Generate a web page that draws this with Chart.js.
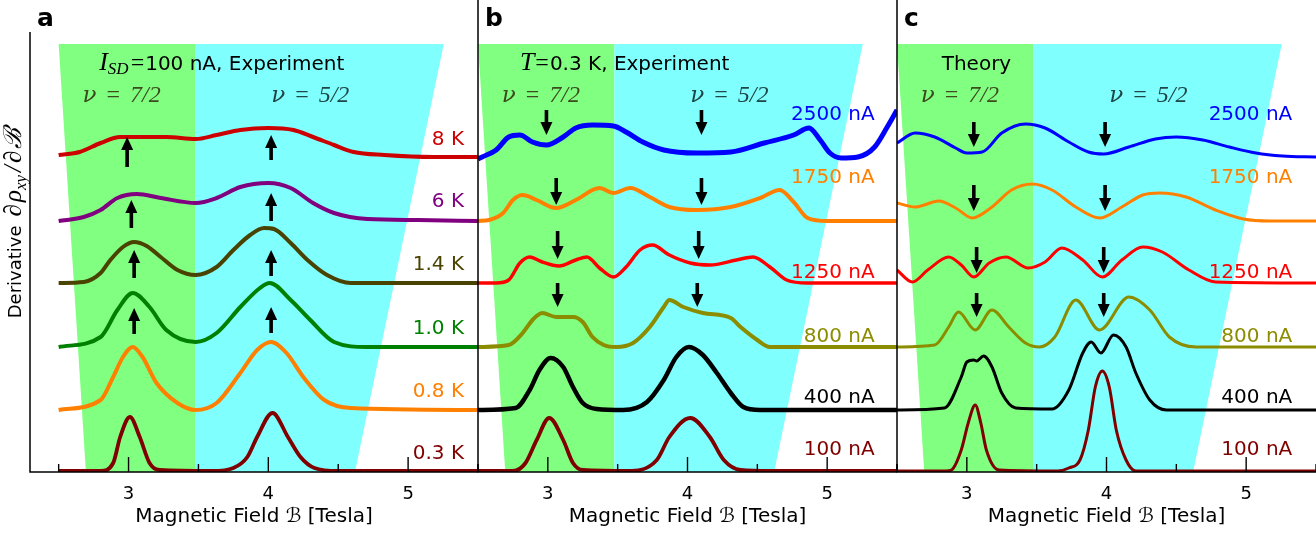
<!DOCTYPE html>
<html>
<head>
<meta charset="utf-8">
<script src="https://cdn.jsdelivr.net/npm/chart.js@4.4.1/dist/chart.umd.min.js"></script>
<style>
  html, body { margin: 0; padding: 0; background: #fff; }
  #wrap { position: relative; width: 1316px; height: 533px; overflow: hidden; }
  .panel { position: absolute; top: 0; height: 533px; }
</style>
</head>
<body>
<div id="wrap">
  <div class="panel" style="left:0;width:480px"><canvas id="chart-a"></canvas></div>
  <div class="panel" style="left:470px;width:430px"><canvas id="chart-b"></canvas></div>
  <div class="panel" style="left:889px;width:427px"><canvas id="chart-c"></canvas></div>
</div>
<script>
// ---- Data (x = field in Tesla, y = offset trace height in plot units) ----
const majorTicks = [3, 4, 5];
const minorTicks = [2.5, 3.5, 4.5, 5.5];

// shaded filling-factor zones (same in every panel)
const greenZone = [[2.5, 428], [3.477, 428], [3.477, 0], [2.695, 0]];
const cyanZone = [[3.477, 428], [5.255, 428], [4.62, 0], [3.477, 0]];

// panel a: I_SD = 100 nA, different temperatures
const tempLabels = ['8 K', '6 K', '1.4 K', '1.0 K', '0.8 K', '0.3 K'];
const trace8K = [[2.50,317],[2.65,320],[2.80,329],[2.94,335],[3.08,335],[3.27,335],[3.48,333],[3.63,337],[3.80,342],[4.00,344],[4.18,342],[4.32,335],[4.47,327],[4.61,320],[4.83,317],[5.18,315],[5.50,315]];
const trace6K = [[2.50,251],[2.68,255],[2.80,262],[2.92,274],[3.06,278],[3.23,274],[3.48,269],[3.63,274],[3.80,285],[4.00,289],[4.16,284],[4.32,269],[4.47,259],[4.71,253],[5.07,252],[5.50,251]];
const trace1p4K = [[2.50,189],[2.68,190],[2.80,199],[2.87,212],[2.96,225],[3.04,230],[3.13,226],[3.23,215],[3.35,202],[3.48,197],[3.63,205],[3.75,222],[3.87,237],[3.97,244],[4.04,243],[4.16,229],[4.28,212],[4.42,197],[4.59,189],[5.50,189]];
const trace1p0K = [[2.50,125],[2.80,135],[2.92,162],[3.03,179],[3.15,165],[3.27,142],[3.48,130],[3.63,139],[3.80,165],[3.94,184],[4.01,189],[4.16,172],[4.30,152],[4.47,130],[4.71,125],[5.50,125]];
const trace0p8K = [[2.50,62],[2.80,72],[2.89,95],[2.96,115],[3.03,125],[3.10,115],[3.20,89],[3.35,69],[3.48,62],[3.63,69],[3.80,99],[3.92,122],[4.02,130],[4.13,119],[4.25,95],[4.40,72],[4.59,64],[5.50,62]];
const trace0p3K = [[2.50,1],[2.80,1],[2.89,9],[2.94,35],[3.01,55],[3.08,35],[3.15,9],[3.22,2],[3.60,1],[3.75,4],[3.85,15],[3.92,35],[4.03,59],[4.14,35],[4.23,15],[4.33,4],[4.50,1],[5.50,1]];

// panel b: T = 0.3 K, different currents (experiment)
const currentLabels = ['2500 nA', '1750 nA', '1250 nA', '800 nA', '400 nA', '100 nA'];
const exp2500 = [[2.50,313],[2.53,315],[2.63,322],[2.72,335],[2.80,337],[2.89,330],[2.99,327],[3.11,335],[3.20,344],[3.32,347],[3.47,346],[3.56,340],[3.68,330],[3.83,322],[4.07,319],[4.31,320],[4.55,329],[4.76,337],[4.87,344],[4.95,332],[5.02,319],[5.10,314],[5.22,315],[5.34,325],[5.43,345],[5.50,362]];
const exp1750 = [[2.50,251],[2.58,252],[2.68,259],[2.75,272],[2.82,277],[2.92,272],[3.06,264],[3.20,272],[3.37,284],[3.47,279],[3.59,284],[3.73,275],[3.87,265],[4.07,262],[4.31,265],[4.52,274],[4.66,282],[4.76,270],[4.86,254],[5.00,251],[5.50,251]];
const exp1250 = [[2.50,189],[2.63,189],[2.72,192],[2.80,209],[2.87,215],[2.96,210],[3.08,206],[3.20,212],[3.28,215],[3.37,204],[3.47,195],[3.56,205],[3.66,222],[3.75,227],[3.87,217],[4.02,209],[4.16,207],[4.35,212],[4.47,215],[4.59,205],[4.71,192],[4.86,189],[5.50,189]];
const exp800 = [[2.50,125],[2.72,127],[2.82,139],[2.89,152],[2.96,159],[3.06,155],[3.18,155],[3.25,150],[3.32,135],[3.40,127],[3.49,125],[3.61,129],[3.73,145],[3.83,165],[3.87,172],[3.97,165],[4.11,159],[4.31,154],[4.38,145],[4.50,132],[4.59,125],[5.50,125]];
const exp400 = [[2.50,62],[2.77,64],[2.87,82],[2.94,102],[3.02,114],[3.11,105],[3.18,85],[3.25,69],[3.35,63],[3.54,62],[3.71,70],[3.83,92],[3.92,115],[4.01,125],[4.11,117],[4.21,99],[4.31,79],[4.40,65],[4.52,62],[5.50,62]];
const exp100 = [[2.50,1],[2.75,1],[2.84,9],[2.92,32],[3.01,54],[3.11,32],[3.18,9],[3.25,2],[3.60,1],[3.78,12],[3.87,35],[4.02,54],[4.16,35],[4.26,12],[4.38,2],[4.60,1],[5.50,1]];

// panel c: theory, same currents
const theory2500 = [[2.50,329],[2.63,339],[2.77,335],[2.92,324],[3.00,319],[3.11,320],[3.25,339],[3.42,348],[3.56,344],[3.73,330],[3.87,320],[3.98,318],[4.16,325],[4.35,333],[4.50,335],[4.69,332],[4.88,325],[5.07,319],[5.26,316],[5.50,315]];
const theory1750 = [[2.50,269],[2.63,265],[2.80,271],[2.92,264],[3.04,254],[3.18,265],[3.32,282],[3.47,288],[3.61,282],[3.78,265],[3.95,254],[4.11,265],[4.26,277],[4.38,279],[4.57,275],[4.78,262],[4.98,253],[5.17,251],[5.50,251]];
const theory1250 = [[2.50,202],[2.61,190],[2.72,202],[2.87,215],[2.96,207],[3.05,195],[3.16,209],[3.28,215],[3.44,204],[3.56,210],[3.68,224],[3.83,212],[3.97,195],[4.11,212],[4.26,225],[4.40,220],[4.59,202],[4.78,190],[5.50,189]];
const theory800 = [[2.50,125],[2.77,127],[2.87,145],[2.94,160],[3.06,142],[3.18,162],[3.30,145],[3.42,129],[3.52,125],[3.63,135],[3.78,172],[3.95,142],[4.16,175],[4.31,162],[4.45,135],[4.64,125],[5.50,125]];
const theory400 = [[2.50,62],[2.84,64],[2.96,95],[3.00,110],[3.05,112],[3.07,111],[3.12,116],[3.18,105],[3.25,79],[3.35,64],[3.61,63],[3.73,82],[3.83,119],[3.89,130],[3.96,119],[4.05,137],[4.14,125],[4.21,99],[4.31,72],[4.43,62],[5.50,62]];
const theory100 = [[2.50,1],[2.85,1],[2.89,2],[2.96,22],[3.01,49],[3.06,67],[3.10,49],[3.14,22],[3.23,2],[3.65,1],[3.73,4],[3.81,12],[3.87,42],[3.92,85],[3.97,101],[4.02,85],[4.07,42],[4.14,12],[4.21,1],[5.50,1]];

// arrows: [field, tail, head]
const arrowsA = [[2.99,306,335],[4.02,313,337],[3.02,245,272],[4.02,252,279],[3.04,195,222],[4.02,197,222],[3.04,139,164],[4.02,140,165]];
const arrowsB = [[2.99,362,337],[4.10,362,337],[3.06,294,267],[4.10,294,267],[3.07,241,213],[4.08,241,213],[3.07,189,165],[4.07,189,165]];
const arrowsC = [[3.05,350,325],[3.99,350,325],[3.05,287,261],[3.99,287,261],[3.07,225,199],[3.98,225,199],[3.07,179,155],[3.98,179,155]];

// trace label heights
const tempLabelY = [332, 270, 207, 143, 80, 18];
const currentLabelY = [357, 294, 199, 135, 74, 22];

// ---- Styles ----
const tempColors = ['#cc0000', '#800080', '#4a4200', '#008000', '#ff8000', '#800000'];
const currentColors = ['#0000ff', '#ff8000', '#ff0000', '#8c8c00', '#000000', '#800000'];
const SANS = '"DejaVu Sans", sans-serif';
const SERIF = '"Liberation Serif", "DejaVu Serif", serif';
const MATHIT = '"DejaVu Serif", serif';

function drawRich(ctx, parts, x, y, align) {
    let total = 0;
    parts.forEach(function(p) {
        if (p.gap) { p.w = p.gap; } else { ctx.font = p.font; p.w = ctx.measureText(p.text).width; }
        total += p.w;
    });
    let cx = align === 'center' ? x - total / 2 : (align === 'right' ? x - total : x);
    parts.forEach(function(p) {
        if (!p.gap) {
            ctx.font = p.font;
            ctx.fillStyle = p.color || '#000';
            ctx.fillText(p.text, cx, y + (p.dy || 0));
        }
        cx += p.w;
    });
}

function drawArrow(ctx, px, pyTail, pyHead) {
    const dir = Math.sign(pyHead - pyTail);
    const headLen = 13, headHalf = 6, shaft = 3.6;
    const pyBase = pyHead - dir * headLen;
    ctx.fillRect(px - shaft / 2, Math.min(pyTail, pyBase), shaft, Math.abs(pyBase - pyTail) + 1);
    ctx.beginPath();
    ctx.moveTo(px - headHalf, pyBase);
    ctx.lineTo(px + headHalf, pyBase);
    ctx.lineTo(px, pyHead);
    ctx.closePath();
    ctx.fill();
}

function nuParts(num, color) {
    return [
        { text: 'ν', font: 'italic 23px ' + MATHIT, color: color },
        { gap: 10 },
        { text: '=', font: '24px ' + SERIF, color: color },
        { gap: 10 },
        { text: num + '/2', font: 'italic 24px ' + SERIF, color: color }
    ];
}

// Draws shading, axes, ticks, arrows and all annotations of one panel
const panelDecor = {
    id: 'panelDecor',
    beforeDatasetsDraw(chart, args, o) {
        const { ctx, chartArea: a, scales: { x, y } } = chart;
        ctx.save();
        ctx.beginPath();
        ctx.rect(a.left, a.top, a.right - a.left, a.bottom - a.top);
        ctx.clip();
        [[greenZone, '#80ff80'], [cyanZone, '#80ffff']].forEach(function(z) {
            ctx.beginPath();
            z[0].forEach(function(p, i) {
                const px = x.getPixelForValue(p[0]), py = y.getPixelForValue(p[1]);
                if (i) ctx.lineTo(px, py); else ctx.moveTo(px, py);
            });
            ctx.closePath();
            ctx.fillStyle = z[1];
            ctx.fill();
        });
        ctx.restore();
    },
    afterDatasetsDraw(chart, args, o) {
        const { ctx, chartArea: a, scales: { x, y } } = chart;
        ctx.save();

        // axes
        ctx.strokeStyle = '#000';
        ctx.lineWidth = 1.5;
        ctx.beginPath();
        ctx.moveTo(a.left, o.leftLineTop);
        ctx.lineTo(a.left, a.bottom);
        ctx.lineTo(a.right, a.bottom);
        ctx.stroke();

        // inward tick marks
        ctx.lineWidth = 1.4;
        majorTicks.concat(minorTicks).forEach(function(v) {
            const px = x.getPixelForValue(v);
            const len = majorTicks.indexOf(v) >= 0 ? 15 : 8;
            ctx.beginPath();
            ctx.moveTo(px, a.bottom);
            ctx.lineTo(px, a.bottom - len);
            ctx.stroke();
        });

        // arrows
        ctx.fillStyle = '#000';
        o.arrows.forEach(function(r) {
            drawArrow(ctx, x.getPixelForValue(r[0]), y.getPixelForValue(r[1]), y.getPixelForValue(r[2]));
        });

        // trace labels
        ctx.textBaseline = 'middle';
        ctx.textAlign = 'right';
        ctx.font = '20px ' + SANS;
        o.labels.forEach(function(t, i) {
            ctx.fillStyle = o.labelColors[i];
            ctx.fillText(t, x.getPixelForValue(o.labelX), y.getPixelForValue(o.labelY[i]));
        });

        // headings
        ctx.textBaseline = 'alphabetic';
        ctx.textAlign = 'left';
        drawRich(ctx, o.heading, x.getPixelForValue(o.headingX), y.getPixelForValue(402), 'left');
        drawRich(ctx, nuParts('7', '#3c4a1e'), x.getPixelForValue(2.95), y.getPixelForValue(370), 'center');
        drawRich(ctx, nuParts('5', '#1e4646'), x.getPixelForValue(4.30), y.getPixelForValue(370), 'center');

        // panel letter
        ctx.font = 'bold 25px ' + SANS;
        ctx.fillStyle = '#000';
        ctx.fillText(o.letter, a.left + 7, 26);

        // y axis title
        if (o.yTitle) {
            ctx.translate(14, 223);
            ctx.rotate(-Math.PI / 2);
            drawRich(ctx, [
                { text: 'Derivative', font: '18px ' + SANS },
                { gap: 9 },
                { text: '∂', font: 'italic 25px ' + SERIF },
                { gap: 2 },
                { text: 'ρ', font: 'italic 25px ' + SERIF },
                { text: 'xy', font: 'italic 17px ' + SERIF, dy: 5 },
                { gap: 3 },
                { text: '/', font: 'italic 25px ' + SERIF },
                { gap: 2 },
                { text: '∂', font: 'italic 25px ' + SERIF },
                { gap: 2 },
                { text: 'ℬ', font: 'italic 25px ' + SERIF }
            ], 0, 7, 'center');
        }
        ctx.restore();
    }
};

function buildPanel(id, cfg) {
    const datasets = cfg.series.map(function(pts, i) {
        return {
            data: pts.map(function(p) { return { x: p[0], y: p[1] }; }),
            borderColor: cfg.colors[i],
            borderWidth: cfg.widths[i],
            pointRadius: 0,
            cubicInterpolationMode: 'monotone',
            fill: false
        };
    });
    return new Chart(document.getElementById(id), {
        type: 'line',
        data: { datasets: datasets },
        options: {
            responsive: true,
            maintainAspectRatio: false,
            animation: false,
            layout: { padding: { left: cfg.padLeft, right: cfg.padRight, top: 32, bottom: 0 } },
            plugins: {
                legend: { display: false },
                tooltip: { enabled: false },
                panelDecor: cfg.decor
            },
            scales: {
                x: {
                    type: 'linear',
                    min: cfg.xMin,
                    max: 5.5,
                    afterBuildTicks: function(s) { s.ticks = majorTicks.map(function(v) { return { value: v }; }); },
                    afterFit: function(s) { s.height = 61; },
                    grid: { display: false, drawTicks: false },
                    border: { display: false },
                    ticks: { padding: 12, color: '#000', autoSkip: false, maxRotation: 0, font: { family: SANS, size: 18 } },
                    title: {
                        display: true,
                        text: 'Magnetic Field ℬ [Tesla]',
                        color: '#000',
                        font: { family: SANS, size: 20 },
                        padding: { top: 0, bottom: 4 }
                    }
                },
                y: { display: false, min: 0, max: 440 }
            }
        },
        plugins: [panelDecor]
    });
}

const serifIt = 'italic 26px ' + SERIF;

buildPanel('chart-a', {
    xMin: 2.295, padLeft: 30, padRight: 2,
    series: [trace8K, trace6K, trace1p4K, trace1p0K, trace0p8K, trace0p3K],
    colors: tempColors,
    widths: [4, 4, 4, 4, 4, 3.8],
    decor: {
        leftLineTop: 32, letter: 'a', yTitle: true,
        arrows: arrowsA,
        labels: tempLabels, labelColors: tempColors, labelY: tempLabelY, labelX: 5.40,
        headingX: 2.79,
        heading: [
            { text: 'I', font: serifIt },
            { text: 'SD', font: 'italic 17px ' + SERIF, dy: 4 },
            { gap: 2 },
            { text: '=', font: '24px ' + SERIF },
            { gap: 1 },
            { text: '100 nA, Experiment', font: '20px ' + SANS }
        ]
    }
});

buildPanel('chart-b', {
    xMin: 2.5, padLeft: 8, padRight: 3,
    series: [exp2500, exp1750, exp1250, exp800, exp400, exp100],
    colors: currentColors,
    widths: [5, 4, 3.5, 4, 4.5, 3.8],
    decor: {
        leftLineTop: 0, letter: 'b', yTitle: false,
        arrows: arrowsB,
        labels: currentLabels, labelColors: currentColors, labelY: currentLabelY, labelX: 5.34,
        headingX: 2.80,
        heading: [
            { text: 'T', font: serifIt },
            { gap: 1 },
            { text: '=', font: '24px ' + SERIF },
            { gap: 1 },
            { text: '0.3 K, Experiment', font: '20px ' + SANS }
        ]
    }
});

buildPanel('chart-c', {
    xMin: 2.5, padLeft: 8, padRight: 0,
    series: [theory2500, theory1750, theory1250, theory800, theory400, theory100],
    colors: currentColors,
    widths: [3, 3, 3, 3, 3, 3],
    decor: {
        leftLineTop: 0, letter: 'c', yTitle: false,
        arrows: arrowsC,
        labels: currentLabels, labelColors: currentColors, labelY: currentLabelY, labelX: 5.33,
        headingX: 2.82,
        heading: [
            { text: 'Theory', font: '20px ' + SANS }
        ]
    }
});
</script>
</body>
</html>
